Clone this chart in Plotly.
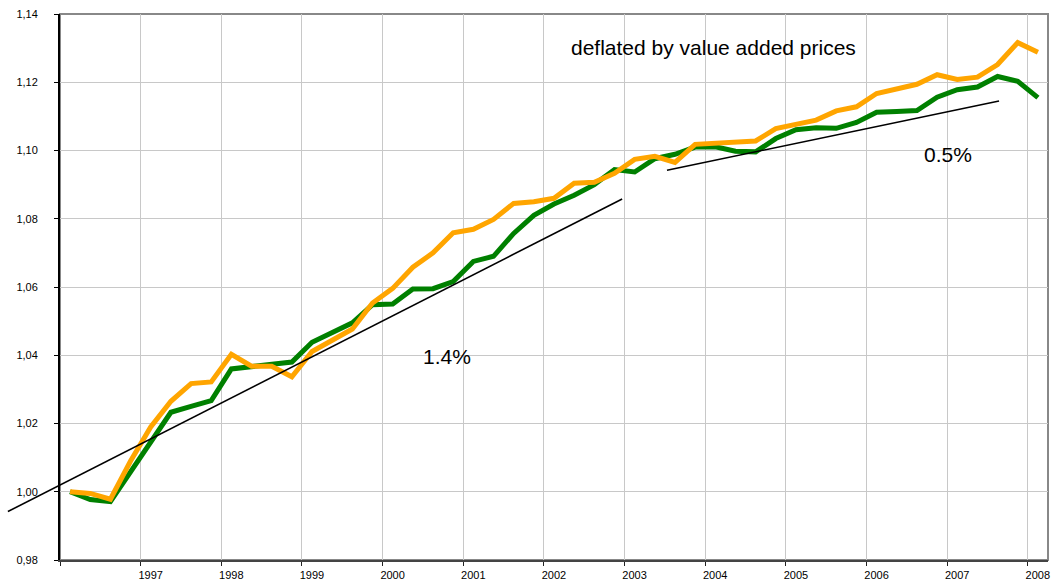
import plotly.graph_objects as go

# Quarterly categories 1996Q1 .. 2008Q1
quarters = [f"{y}Q{q}" for y in range(1996, 2009) for q in range(1, 5)][:49]

green_values = [
    1.0000, 0.9977, 0.9971, 1.0057, 1.0145, 1.0233, 1.0250, 1.0267,
    1.0360, 1.0366, 1.0375, 1.0380, 1.0438, 1.0465, 1.0495, 1.0548,
    1.0550, 1.0594, 1.0595, 1.0616, 1.0675, 1.0690, 1.0757, 1.0810,
    1.0843, 1.0869, 1.0900, 1.0944, 1.0937, 1.0976, 1.0989, 1.1010,
    1.1011, 1.0998, 1.0996, 1.1035, 1.1061, 1.1067, 1.1065, 1.1082,
    1.1112, 1.1114, 1.1117, 1.1156, 1.1178, 1.1186, 1.1217, 1.1203,
    1.1155,
]
orange_values = [
    1.0000, 0.9995, 0.9978, 1.0090, 1.0190, 1.0265, 1.0317, 1.0322,
    1.0403, 1.0368, 1.0368, 1.0337, 1.0411, 1.0442, 1.0477, 1.0553,
    1.0596, 1.0658, 1.0700, 1.0759, 1.0769, 1.0798, 1.0845, 1.0850,
    1.0860, 1.0904, 1.0907, 1.0933, 1.0974, 1.0983, 1.0965, 1.1018,
    1.1021, 1.1022, 1.1028, 1.1064, 1.1076, 1.1089, 1.1116, 1.1128,
    1.1167, 1.1180, 1.1194, 1.1222, 1.1208, 1.1215, 1.1252, 1.1316,
    1.1288,
]

year_ticks = list(range(1996, 2009))
year_labels = [""] + [str(y) for y in range(1997, 2009)]

# trend lines: (x0, y0, x1, y1) in data units, with labels
trend_lines = [
    (1995.354, 0.9942, 2002.97, 1.0858),
    (2003.526, 1.0942, 2007.643, 1.1145),
]
trend_labels = [("1.4%", 2000.80, 1.0396), ("0.5%", 2007.01, 1.0987)]
title_text = ("deflated by value added prices", 2004.10, 1.1302)

X_RANGE = [1996, 2008.25]
Y_RANGE = [0.98, 1.14]

def qpos(label):
    y, q = label.split("Q")
    return int(y) + (int(q) - 0.5) / 4

x = [qpos(q) for q in quarters]

FONT = "Arial, 'Liberation Sans', sans-serif"

fig = go.Figure()
fig.add_trace(go.Scatter(x=x, y=green_values, mode="lines",
                         line=dict(color="#008000", width=5), hoverinfo="skip"))
fig.add_trace(go.Scatter(x=x, y=orange_values, mode="lines",
                         line=dict(color="#FFA500", width=5), hoverinfo="skip"))

def px(v):
    return (v - X_RANGE[0]) / (X_RANGE[1] - X_RANGE[0])

def py(v):
    return (v - Y_RANGE[0]) / (Y_RANGE[1] - Y_RANGE[0])

shapes = [
    dict(type="rect", xref="paper", yref="paper", x0=0, x1=1, y0=0, y1=1,
         line=dict(color="#888888", width=2), layer="below"),
]
for (x0, y0, x1, y1) in trend_lines:
    shapes.append(dict(type="line", xref="paper", yref="paper",
                       x0=px(x0), y0=py(y0), x1=px(x1), y1=py(y1),
                       line=dict(color="black", width=1.6), layer="above"))

annotations = []
for (t, ax, ay) in trend_labels + [title_text]:
    annotations.append(dict(text=t, x=ax, y=ay, xref="x", yref="y",
                            showarrow=False,
                            font=dict(family=FONT, size=21, color="black")))

fig.update_layout(
    width=1055, height=587,
    margin=dict(l=60, r=5, t=14, b=27),
    paper_bgcolor="white", plot_bgcolor="white",
    showlegend=False,
    separators=", ",
    font=dict(family=FONT, size=11, color="black"),
    shapes=shapes,
    annotations=annotations,
)
fig.update_xaxes(
    range=X_RANGE, tickvals=year_ticks, ticktext=year_labels,
    showgrid=True, gridcolor="#c8c8c8", gridwidth=1,
    showline=True, linecolor="#444444", linewidth=2,
    ticks="outside", ticklen=4, tickcolor="#222222", tickwidth=1,
    ticklabelshift=10, zeroline=False,
)
fig.update_yaxes(
    range=Y_RANGE, dtick=0.02, tick0=0.98, tickformat=".2f",
    showgrid=True, gridcolor="#c8c8c8", gridwidth=1,
    showline=True, linecolor="black", linewidth=2,
    ticks="outside", ticklen=4, tickcolor="black", tickwidth=1,
    ticklabelstandoff=14, zeroline=False,
)

fig.write_html(
    "out.html",
    config={"displayModeBar": False},
    post_script="document.body.style.margin='0';document.body.style.overflow='hidden';",
)
